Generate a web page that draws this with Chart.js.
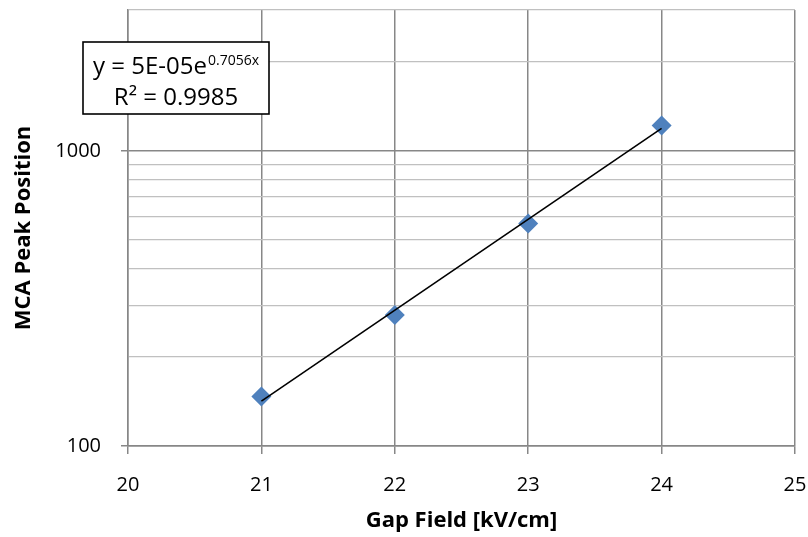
<!DOCTYPE html>
<html><head><meta charset="utf-8">
<script src="https://cdn.jsdelivr.net/npm/chart.js@4"></script>
<style>html,body{margin:0;padding:0;background:#fff}canvas{display:block}</style>
</head><body>
<canvas id="c" width="808" height="537"></canvas>
<script>
const gapField = [21, 22, 23, 24];
const mcaPeak = [147, 278, 567, 1219];
const trendX = [21, 24];
const trendY = [142, 1191];
const yTickValues = [100, 200, 300, 400, 500, 600, 700, 800, 900, 1000, 2000, 3000];
const yLabelValues = [100, 1000];
const xTickValues = [20, 21, 22, 23, 24, 25];
const equationText = 'y = 5E-05e';
const exponentText = '0.7056x';
const r2Text = 'R\u00B2 = 0.9985';
const xTitle = 'Gap Field [kV/cm]';
const yTitle = 'MCA Peak Position';

const FONT = "'Open Sans', 'DejaVu Sans', sans-serif";
const MAJOR = '#878787';
const MINOR = '#C0C0C0';

const annotPlugin = {
  id: 'annot',
  afterDraw(chart) {
    const ctx = chart.ctx, a = chart.chartArea;
    const x0 = a.left - 45, y0 = a.top + 32, w = 186, h = 72;
    ctx.save();
    ctx.fillStyle = '#fff';
    ctx.fillRect(x0, y0, w, h);
    ctx.strokeStyle = '#000';
    ctx.lineWidth = 1.6;
    ctx.strokeRect(x0, y0, w, h);
    ctx.fillStyle = '#000';
    ctx.textBaseline = 'alphabetic';
    ctx.textAlign = 'left';
    const mainF = '24px ' + FONT, supF = '14px ' + FONT;
    ctx.font = mainF; const w1 = ctx.measureText(equationText).width;
    ctx.font = supF; const w2 = ctx.measureText(exponentText).width;
    const cx = x0 + w / 2;
    let sx = cx - (w1 + w2 + 1) / 2;
    ctx.font = mainF; ctx.fillText(equationText, sx, y0 + 32);
    ctx.font = supF; ctx.fillText(exponentText, sx + w1 + 1, y0 + 23);
    ctx.font = mainF; ctx.textAlign = 'center';
    ctx.fillText(r2Text, cx, y0 + 63);
    ctx.restore();
  }
};

new Chart(document.getElementById('c'), {
  type: 'scatter',
  data: {
    datasets: [
      {
        label: 'trend',
        data: trendX.map((x, i) => ({x, y: trendY[i]})),
        showLine: true,
        borderColor: '#000',
        borderWidth: 1.6,
        pointRadius: 0,
        order: 0
      },
      {
        label: 'MCA',
        data: gapField.map((x, i) => ({x, y: mcaPeak[i]})),
        pointStyle: 'rectRot',
        pointRadius: 10,
        pointBackgroundColor: '#4F81BD',
        pointBorderColor: '#4F81BD',
        pointBorderWidth: 0,
        order: 1
      }
    ]
  },
  options: {
    responsive: false,
    animation: false,
    devicePixelRatio: 1,
    layout: { padding: { top: 10, right: 13, left: 0, bottom: 0 } },
    plugins: { legend: { display: false }, tooltip: { enabled: false } },
    scales: {
      x: {
        type: 'linear', min: 20, max: 25,
        afterBuildTicks: s => { s.ticks = xTickValues.map(v => ({value: v})); },
        afterFit: s => { s.height = 91; s.paddingLeft = 0; s.paddingRight = 0; },
        border: { color: MAJOR, width: 1.5 },
        grid: { color: MAJOR, lineWidth: 1.5, tickLength: 8, tickColor: MAJOR, tickWidth: 1.5 },
        ticks: { color: '#000', font: { family: FONT, size: 20 }, padding: 19, maxRotation: 0 },
        title: { display: true, text: xTitle, color: '#000', font: { family: FONT, size: 22, weight: 'bold' }, padding: { top: 0, bottom: 3 } }
      },
      y: {
        type: 'logarithmic', min: 100, max: 3000,
        afterBuildTicks: s => { s.ticks = yTickValues.map(v => ({value: v})); },
        afterFit: s => { s.width = 128; s.paddingTop = 0; s.paddingBottom = 0; },
        border: { color: MAJOR, width: 1.5 },
        grid: {
          color: c => yLabelValues.includes(c.tick.value) ? MAJOR : MINOR,
          lineWidth: c => yLabelValues.includes(c.tick.value) ? 1.5 : 1.3,
          tickLength: 7,
          tickColor: c => yLabelValues.includes(c.tick.value) ? MAJOR : 'rgba(0,0,0,0)',
          tickWidth: 1.5
        },
        ticks: {
          color: '#000', font: { family: FONT, size: 20 }, padding: 20, autoSkip: false,
          callback: v => yLabelValues.includes(v) ? String(v) : ''
        },
        title: { display: true, text: yTitle, color: '#000', font: { family: FONT, size: 22, weight: 'bold' }, padding: { top: 11, bottom: 0 } }
      }
    }
  },
  plugins: [annotPlugin]
});
</script>
</body></html>
